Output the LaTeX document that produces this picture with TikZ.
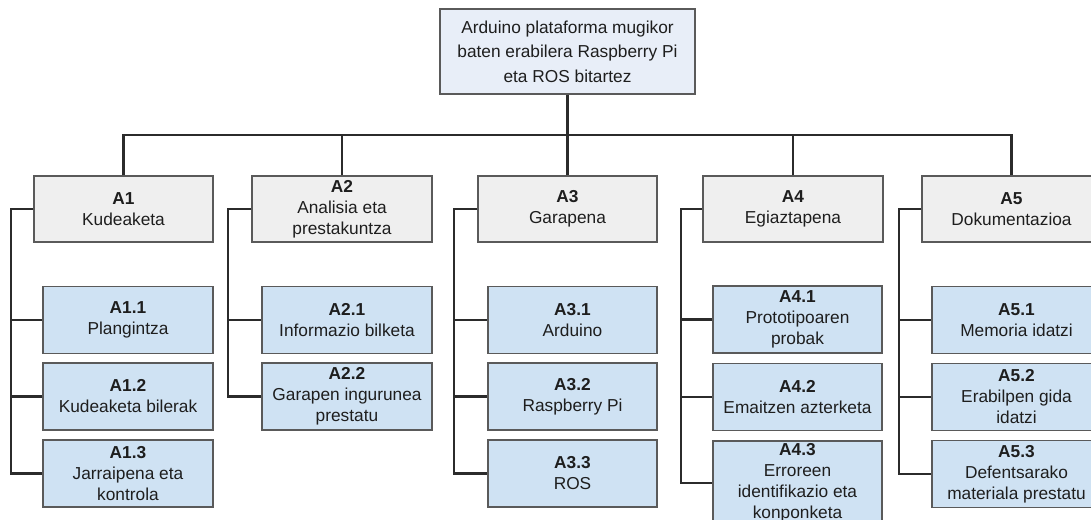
\documentclass[tikz,border=0pt]{standalone}
\usepackage{fontspec}
\setmainfont{Liberation Sans}
\definecolor{topfill}{HTML}{E8EEF8}
\definecolor{lonefill}{HTML}{EFEFEF}
\definecolor{childfill}{HTML}{CFE2F3}
\definecolor{boxline}{HTML}{5A5A5A}
\definecolor{connline}{HTML}{2B2B2B}
\definecolor{txt}{HTML}{1E1E1E}
\tikzset{
  basebox/.style={draw=boxline, line width=1.3pt, inner sep=0pt, align=center, text=txt,
    font=\fontsize{17.3}{21}\selectfont, anchor=center},
  topbox/.style={basebox, fill=topfill, minimum width=255pt, minimum height=85pt,
    font=\fontsize{17.3}{24.5}\selectfont},
  levelbox/.style={basebox, fill=lonefill, minimum width=179pt, minimum height=66pt},
  childbox/.style={basebox, fill=childfill, minimum width=169pt, minimum height=67pt},
  conn/.style={draw=connline, line width=2.2pt}
}
\begin{document}
\begin{tikzpicture}[x=1pt, y=-1pt]
\useasboundingbox (0,0) rectangle (1091,519);
% root
\node[topbox] (root) at (567.5,51.5) {Arduino plataforma mugikor\\baten erabilera Raspberry Pi\\eta ROS bitartez};
% level 1
\node[levelbox] (A1) at (123.5,209) {\textbf{A1}\\Kudeaketa};
\node[levelbox, minimum width=180pt] (A2) at (342,209) {\textbf{A2}\\Analisia eta\\prestakuntza};
\node[levelbox] (A3) at (567.5,209) {\textbf{A3}\\Garapena};
\node[levelbox, minimum width=180pt] (A4) at (793,209) {\textbf{A4}\\Egiaztapena};
\node[levelbox] (A5) at (1011.5,209) {\textbf{A5}\\Dokumentazioa};
% children
\node[childbox, minimum width=170pt] (A11) at (128,320) {\textbf{A1.1}\\Plangintza};
\node[childbox, minimum width=170pt] (A12) at (128,396.5) {\textbf{A1.2}\\Kudeaketa bilerak};
\node[childbox, minimum width=170pt] (A13) at (128,473.5) {\textbf{A1.3}\\Jarraipena eta\\kontrola};
\node[childbox, minimum width=170pt] (A21) at (347,320) {\textbf{A2.1}\\Informazio bilketa};
\node[childbox, minimum width=170pt] (A22) at (347,396.5) {\textbf{A2.2}\\Garapen ingurunea\\prestatu};
\node[childbox] (A31) at (572.5,320) {\textbf{A3.1}\\Arduino};
\node[childbox] (A32) at (572.5,396.5) {\textbf{A3.2}\\Raspberry Pi};
\node[childbox] (A33) at (572.5,473.5) {\textbf{A3.3}\\ROS};
\node[childbox] (A41) at (797.5,319.5) {\textbf{A4.1}\\Prototipoaren\\probak};
\node[childbox] (A42) at (797.5,397) {\textbf{A4.2}\\Emaitzen azterketa};
\node[childbox, minimum height=84pt] (A43) at (797.5,483) {\textbf{A4.3}\\Erroreen\\identifikazio eta\\konponketa};
\node[childbox] (A51) at (1016.5,320) {\textbf{A5.1}\\Memoria idatzi};
\node[childbox] (A52) at (1016.5,397) {\textbf{A5.2}\\Erabilpen gida\\idatzi};
\node[childbox] (A53) at (1016.5,474) {\textbf{A5.3}\\Defentsarako\\materiala prestatu};
% top connectors
\coordinate (bar) at (567.5,135);
\draw[conn] (root.south) -- (root.south |- bar);
\draw[conn] (A1.north) -- (A1.north |- bar) -- (A5.north |- bar) -- (A5.north);
\draw[conn] (A2.north) -- (A2.north |- bar);
\draw[conn] (A3.north) -- (A3.north |- bar);
\draw[conn] (A4.north) -- (A4.north |- bar);
% trees
\coordinate (t1) at (11,209);
\coordinate (t2) at (228,209);
\coordinate (t3) at (454,209);
\coordinate (t4) at (681,209);
\coordinate (t5) at (899,209);
\draw[conn] (A1.west) -- (t1) |- (A13.west);
\draw[conn] (t1) |- (A11.west);
\draw[conn] (t1) |- (A12.west);
\draw[conn] (A2.west) -- (t2) |- (A22.west);
\draw[conn] (t2) |- (A21.west);
\draw[conn] (A3.west) -- (t3) |- (A33.west);
\draw[conn] (t3) |- (A31.west);
\draw[conn] (t3) |- (A32.west);
\draw[conn] (A4.west) -- (t4) |- (A43.west);
\draw[conn] (t4) |- (A41.west);
\draw[conn] (t4) |- (A42.west);
\draw[conn] (A5.west) -- (t5) |- (A53.west);
\draw[conn] (t5) |- (A51.west);
\draw[conn] (t5) |- (A52.west);
\end{tikzpicture}
\end{document}
